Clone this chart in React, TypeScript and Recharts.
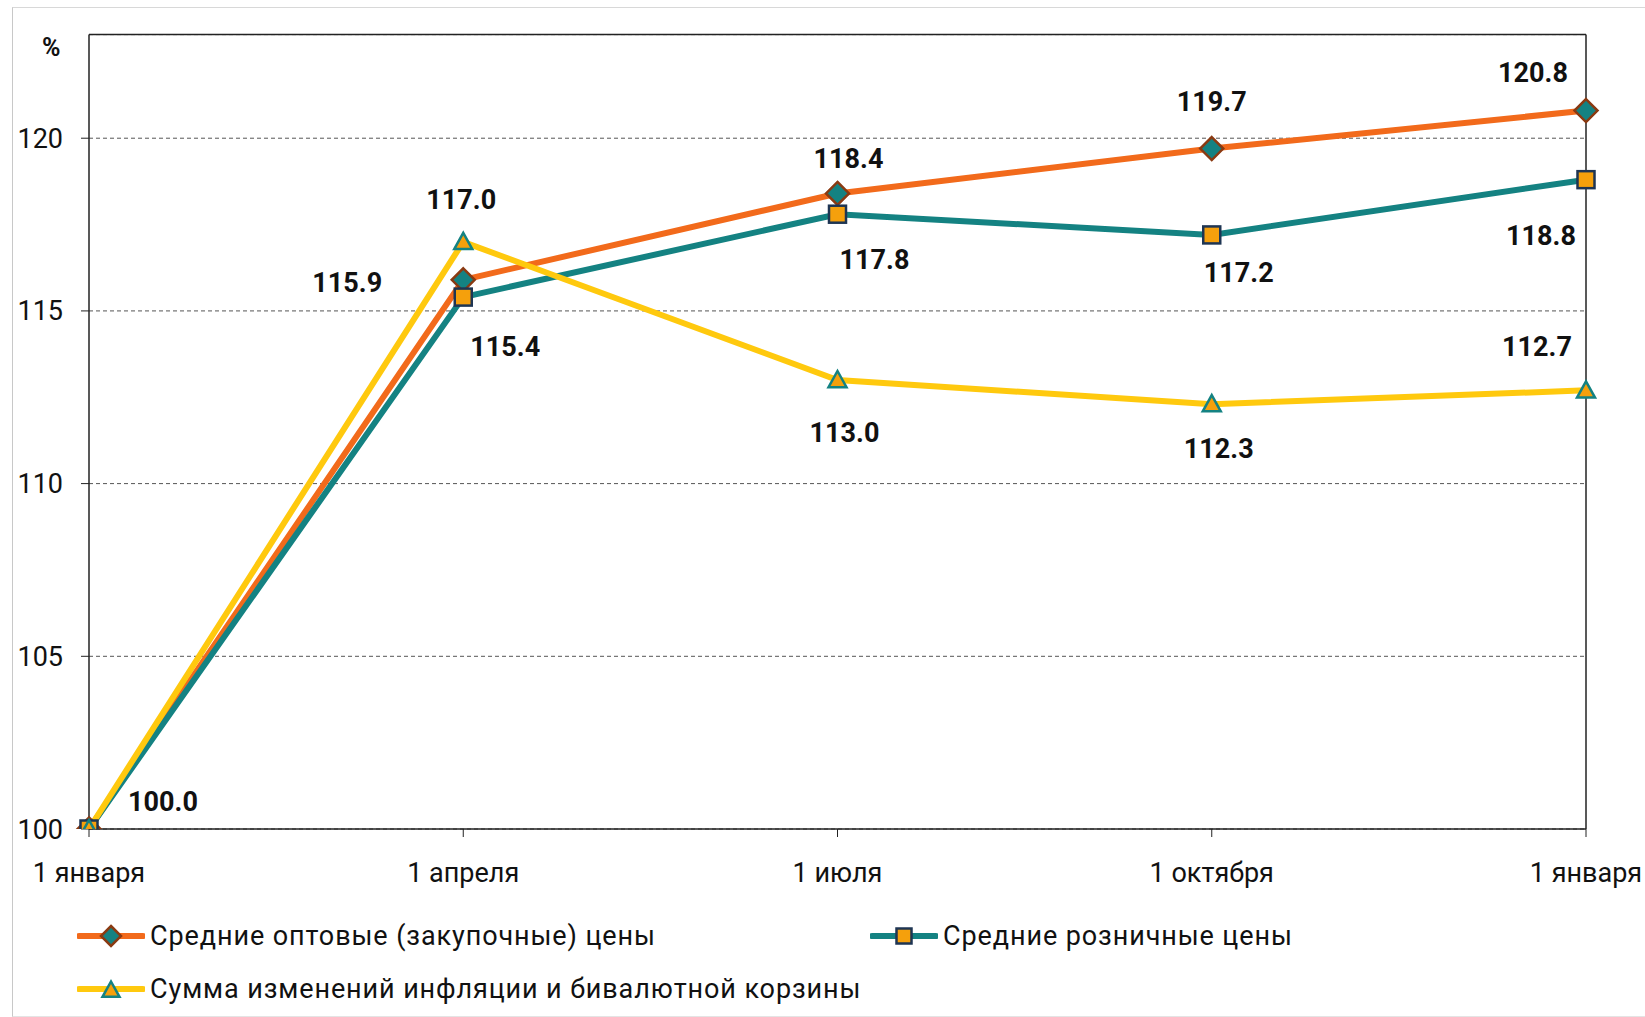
import React from 'react';
import { LineChart, Line, XAxis, YAxis, CartesianGrid, ReferenceLine, LabelList } from 'recharts';

const categories = ['1 января', '1 апреля', '1 июля', '1 октября', '1 января'];
const wholesale = [100.0, 115.9, 118.4, 119.7, 120.8];
const retail = [100.0, 115.4, 117.8, 117.2, 118.8];
const basket = [100.0, 117.0, 113.0, 112.3, 112.7];
const yTicks = [100, 105, 110, 115, 120];
const seriesNames = [
  'Средние оптовые (закупочные) цены',
  'Средние розничные цены',
  'Сумма изменений инфляции и бивалютной корзины',
];

// label offsets (dx, dy) relative to each point; null = no label
const wholesaleLabelOffsets: ([number, number] | null)[] = [[74, -27], [-116, 3], [11, -34], [0, -47], [-53, -38]];
const retailLabelOffsets: ([number, number] | null)[] = [null, [42, 50], [37, 46], [27, 38], [-45, 56]];
const basketLabelOffsets: ([number, number] | null)[] = [null, [-2, -42], [7, 53], [7, 45], [-49, -43]];

const data = categories.map((c, i) => ({ i, wholesale: wholesale[i], retail: retail[i], basket: basket[i] }));

const FONT = 'Roboto, "Liberation Sans", sans-serif';
const ORANGE = '#F26A1B';
const TEAL = '#148282';
const YELLOW = '#FFC90E';
const MARK_ORANGE = '#F5A00C';

const Diamond = ({ cx, cy, r = 11.5 }: any) => (
  <polygon points={`${cx},${cy - r} ${cx + r},${cy} ${cx},${cy + r} ${cx - r},${cy}`} fill={TEAL} stroke="#8A3A12" strokeWidth={2.5} />
);
const Square = ({ cx, cy, h = 8.5 }: any) => (
  <rect x={cx - h} y={cy - h} width={2 * h} height={2 * h} fill={MARK_ORANGE} stroke="#1E3553" strokeWidth={2.5} />
);
const Triangle = ({ cx, cy, h = 9 }: any) => (
  <polygon points={`${cx},${cy - h} ${cx + h},${cy + h * 0.8} ${cx - h},${cy + h * 0.8}`} fill={MARK_ORANGE} stroke={TEAL} strokeWidth={2.5} />
);

const makeLabel = (offsets: ([number, number] | null)[]) => (props: any) => {
  const { x, y, index, value } = props;
  const off = offsets[index];
  if (!off || x == null || y == null) return null;
  return (
    <text
      x={x + off[0]}
      y={y + off[1]}
      textAnchor="middle"
      dominantBaseline="central"
      fontFamily={FONT}
      fontWeight="bold"
      fontSize={27}
      fill="#111"
    >
      {Number(value).toFixed(1)}
    </text>
  );
};

const LegendIcon = ({ color, kind }: { color: string; kind: string }) => (
  <svg width={68} height={24} style={{ display: 'block' }}>
    <line x1={2} y1={12} x2={66} y2={12} stroke={color} strokeWidth={6} strokeLinecap="round" />
    {kind === 'diamond' && <Diamond cx={34} cy={12} r={10} />}
    {kind === 'square' && <Square cx={34} cy={12} h={7.5} />}
    {kind === 'triangle' && <Triangle cx={34} cy={13} h={8.5} />}
  </svg>
);

const legendText: React.CSSProperties = {
  fontFamily: FONT,
  fontSize: 27,
  color: '#111',
  whiteSpace: 'nowrap',
  marginLeft: 5,
  letterSpacing: '0.9px',
};

export default function App() {
  return (
    <div style={{ position: 'absolute', left: 0, top: 0, width: 1645, height: 1017, overflow: 'hidden', background: '#fff' }}>
      <div
        style={{
          position: 'absolute',
          left: 12,
          top: 7,
          width: 1640,
          height: 1008,
          borderLeft: '1px solid #c8c8c8',
          borderTop: '1px solid #d8d8d8',
          borderBottom: '1px solid #e4e4e4',
        }}
      />
      <div style={{ position: 'absolute', left: 0, top: 0 }}>
        <LineChart width={1645} height={1017} data={data} margin={{ top: 34.6, right: 59, left: 0, bottom: 128 }}>
          <CartesianGrid vertical={false} stroke="#555" strokeDasharray="4 3" strokeWidth={1} />
          <XAxis
            dataKey="i"
            type="category"
            tickFormatter={(v: any) => categories[v]}
            height={60}
            tickSize={8}
            tickMargin={26}
            axisLine={{ stroke: '#222', strokeWidth: 1.5 }}
            tickLine={{ stroke: '#222', strokeWidth: 1 }}
            tick={{ fontFamily: FONT, fontSize: 27, fill: '#111' }}
            interval={0}
          />
          <YAxis
            domain={[100, 123]}
            ticks={yTicks}
            allowDataOverflow
            width={89}
            tickSize={8}
            tickMargin={18}
            axisLine={{ stroke: '#222', strokeWidth: 1.5 }}
            tickLine={{ stroke: '#222', strokeWidth: 1 }}
            tick={{ fontFamily: FONT, fontSize: 27, fill: '#111' }}
          />
          <ReferenceLine y={123} stroke="#222" strokeWidth={1.5} />
          <ReferenceLine x={4} stroke="#222" strokeWidth={1.5} />
          <Line
            dataKey="wholesale"
            stroke={ORANGE}
            strokeWidth={6}
            isAnimationActive={false}
            dot={(p: any) => <Diamond key={`d${p.index}`} cx={p.cx} cy={p.cy} />}
          >
            <LabelList dataKey="wholesale" content={makeLabel(wholesaleLabelOffsets)} />
          </Line>
          <Line
            dataKey="retail"
            stroke={TEAL}
            strokeWidth={6}
            isAnimationActive={false}
            dot={(p: any) => <Square key={`s${p.index}`} cx={p.cx} cy={p.cy} />}
          >
            <LabelList dataKey="retail" content={makeLabel(retailLabelOffsets)} />
          </Line>
          <Line
            dataKey="basket"
            stroke={YELLOW}
            strokeWidth={6}
            isAnimationActive={false}
            dot={(p: any) => <Triangle key={`t${p.index}`} cx={p.cx} cy={p.cy} />}
          >
            <LabelList dataKey="basket" content={makeLabel(basketLabelOffsets)} />
          </Line>
        </LineChart>
      </div>
      <div style={{ position: 'absolute', left: 42, top: 33, fontFamily: FONT, fontWeight: 'bold', fontSize: 25, color: '#111' }}>%</div>
      <div style={{ position: 'absolute', left: 77, top: 920, display: 'flex', alignItems: 'center' }}>
        <LegendIcon color={ORANGE} kind="diamond" />
        <span style={legendText}>{seriesNames[0]}</span>
      </div>
      <div style={{ position: 'absolute', left: 870, top: 920, display: 'flex', alignItems: 'center' }}>
        <LegendIcon color={TEAL} kind="square" />
        <span style={legendText}>{seriesNames[1]}</span>
      </div>
      <div style={{ position: 'absolute', left: 77, top: 973, display: 'flex', alignItems: 'center' }}>
        <LegendIcon color={YELLOW} kind="triangle" />
        <span style={legendText}>{seriesNames[2]}</span>
      </div>
    </div>
  );
}
